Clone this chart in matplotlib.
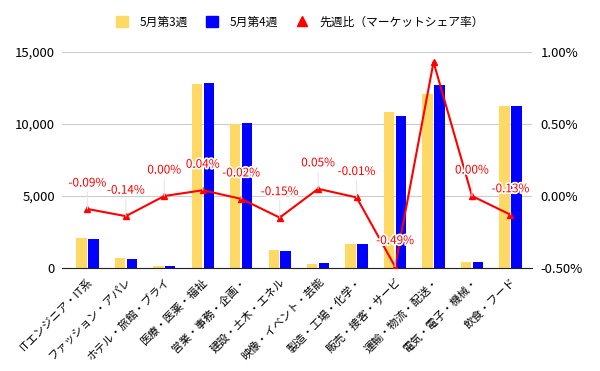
import matplotlib
matplotlib.use('Agg')
import matplotlib.pyplot as plt
import matplotlib.patheffects as pe
from matplotlib.lines import Line2D
from matplotlib.patches import Patch
from matplotlib.ticker import FuncFormatter
import numpy as np

plt.rcParams['font.family'] = ['Noto Sans CJK JP', 'DejaVu Sans']

categories = ['ITエンジニア・IT系', 'ファッション・アパレ', 'ホテル・旅館・ブライ', '医療・医薬・福祉',
              '営業・事務・企画・', '建設・土木・エネル', '映像・イベント・芸能', '製造・工場・化学・',
              '販売・接客・サービ', '運輸・物流・配送・', '電気・電子・機械・', '飲食・フード']
week3 = [2100, 700, 150, 12780, 10000, 1250, 280, 1700, 10830, 12100, 400, 11250]
week4 = [2000, 600, 130, 12850, 10070, 1200, 350, 1700, 10550, 12700, 400, 11250]
share_change = [-0.09, -0.14, 0.00, 0.04, -0.02, -0.15, 0.05, -0.01, -0.49, 0.93, 0.00, -0.13]
share_labels = ['-0.09%', '-0.14%', '0.00%', '0.04%', '-0.02%', '-0.15%', '0.05%', '-0.01%',
                '-0.49%', None, '0.00%', '-0.13%']

c_yellow = '#FFD966'
c_blue = '#0000FF'
c_red = '#FF0000'

fig = plt.figure(figsize=(6, 3.71), dpi=100)
ax = fig.add_axes([62 / 600, 1 - 268 / 371, 470 / 600, 216 / 371])
x = np.arange(len(categories))
w = 0.27
ax.bar(x - 0.155, week3, w, color=c_yellow, zorder=2)
ax.bar(x + 0.155, week4, w, color=c_blue, zorder=2)
ax.set_xlim(-0.66, 11.56)
ax.set_ylim(0, 15000)
ax.set_yticks([0, 5000, 10000, 15000])
ax.yaxis.set_major_formatter(FuncFormatter(lambda v, p: f'{v:,.0f}'))
ax.grid(axis='y', color='#cccccc', linewidth=0.8, zorder=0)
for s in ['top', 'right', 'left']:
    ax.spines[s].set_visible(False)
ax.spines['bottom'].set_color('#222222')
ax.tick_params(axis='y', length=0, labelsize=9.5, pad=5)
ax.tick_params(axis='x', length=0, pad=6)
ax.set_xticks(x)
ax.set_xticklabels(categories, rotation=45, ha='right', rotation_mode='anchor', fontsize=8)

ax2 = ax.twinx()
ax2.plot(x, share_change, color=c_red, linewidth=1.5, marker='^', markersize=4, zorder=3)
ax2.set_ylim(-0.5, 1.0)
ax2.set_yticks([-0.5, 0.0, 0.5, 1.0])
ax2.yaxis.set_major_formatter(FuncFormatter(lambda v, p: f'{v:.2f}%'))
ax2.tick_params(axis='y', length=0, labelsize=9.5, pad=6)
for s in ['top', 'right', 'left', 'bottom']:
    ax2.spines[s].set_visible(False)

for xi, yi, lab in zip(x, share_change, share_labels):
    if lab is None:
        continue
    ax2.annotate(lab, xy=(xi, yi), xytext=(0, 14), textcoords='offset points',
                 ha='center', va='bottom', fontsize=8.5, color=c_red,
                 path_effects=[pe.withStroke(linewidth=2.5, foreground='white')],
                 arrowprops=dict(arrowstyle='-', color='#e6e6e6', lw=0.8, shrinkA=0, shrinkB=0))

handles = [Patch(color=c_yellow), Patch(color=c_blue),
           Line2D([], [], color=c_red, marker='^', linestyle='None', markersize=7)]
fig.legend(handles, ['5月第3週', '5月第4週', '先週比（マーケットシェア率）'],
           loc='center', bbox_to_anchor=(0.5, 1 - 22 / 371), ncol=3, frameon=False,
           fontsize=8.5, handlelength=1.0, handleheight=1.0, columnspacing=1.5, handletextpad=1.0)

plt.savefig('out.png', dpi=100)
